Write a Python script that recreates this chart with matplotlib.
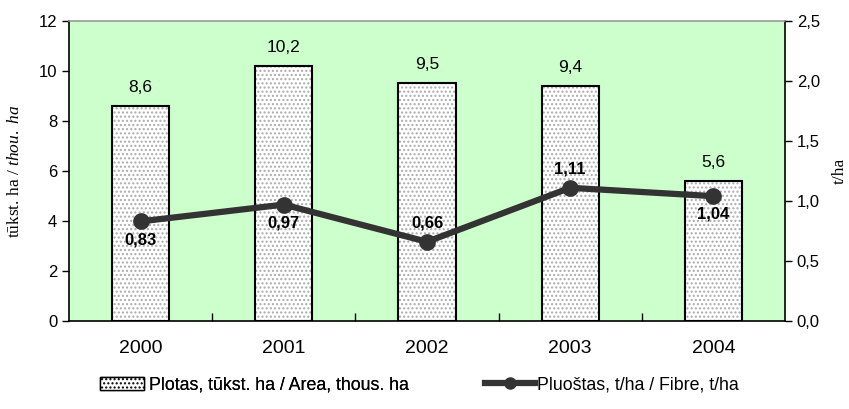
import matplotlib
matplotlib.use("Agg")
import matplotlib.pyplot as plt
import numpy as np
from matplotlib.patches import Patch
from matplotlib.lines import Line2D

plt.rcParams['font.family'] = ['Liberation Sans', 'DejaVu Sans']
plt.rcParams['mathtext.fontset'] = 'custom'
plt.rcParams['mathtext.rm'] = 'Liberation Serif'
plt.rcParams['mathtext.it'] = 'Liberation Serif:italic'

years = ['2000', '2001', '2002', '2003', '2004']
area = [8.6, 10.2, 9.5, 9.4, 5.6]
fibre = [0.83, 0.97, 0.66, 1.11, 1.04]
area_labels = ['8,6', '10,2', '9,5', '9,4', '5,6']
fibre_labels = ['0,83', '0,97', '0,66', '1,11', '1,04']
fibre_above = [False, False, True, True, False]
left_ticks = [0, 2, 4, 6, 8, 10, 12]
right_ticks = [0.0, 0.5, 1.0, 1.5, 2.0, 2.5]
right_tick_labels = ['0,0', '0,5', '1,0', '1,5', '2,0', '2,5']

W, H = 849, 409
fig = plt.figure(figsize=(W / 100, H / 100), dpi=100)
ax = fig.add_axes([0.0813, 0.2152, 0.8433, 0.7335])
ax.set_facecolor('#CCFFCC')
x = np.arange(len(years))
w = 0.4
ax.bar(x, area, width=w, color='white', edgecolor='#AAAAAA', hatch='....', linewidth=0, zorder=2)
ax.bar(x, area, width=w, fill=False, edgecolor='black', linewidth=1.5, zorder=3)
for xi, v, lab in zip(x, area, area_labels):
    ax.text(xi, v + 0.45, lab, ha='center', va='bottom', fontsize=12.5)
ax.set_xlim(-0.5, len(years) - 0.5)
ax.set_ylim(0, 12)
ax.set_yticks(left_ticks)
ax.set_xticks(x)
ax.set_xticklabels(years, fontsize=14)
ax.set_xticks(np.arange(0.5, len(years) - 0.5, 1), minor=True)
ax.tick_params(axis='x', which='major', length=0, pad=14)
ax.tick_params(axis='x', which='minor', length=6, direction='in', width=1)
ax.tick_params(axis='y', labelsize=12, direction='out', length=5, width=1)
for s in ['left', 'bottom', 'right']:
    ax.spines[s].set_color('black')
    ax.spines[s].set_linewidth(1.2)
ax.spines['top'].set_color('#999999')
ax.spines['top'].set_linewidth(1.2)
ax.set_ylabel(r'tūkst. ha / $\it{thou.\ ha}$', fontsize=12.5, family='Liberation Serif')
ax.yaxis.set_label_coords(-0.064, 0.5)

ax2 = ax.twinx()
ax2.set_ylim(0, 2.5)
ax2.set_yticks(right_ticks)
ax2.set_yticklabels(right_tick_labels)
ax2.tick_params(axis='y', labelsize=12, direction='out', length=5, width=1)
ax2.plot(x, fibre, color='#333333', linewidth=4.5, marker='o', markersize=11, zorder=5)
for xi, v, lab, up in zip(x, fibre, fibre_labels, fibre_above):
    if up:
        ax2.text(xi, v + 0.09, lab, ha='center', va='bottom', fontsize=12, fontweight='bold')
    else:
        ax2.text(xi, v - 0.09, lab, ha='center', va='top', fontsize=12, fontweight='bold')
ax2.set_ylabel('t/ha', fontsize=12.5, family='Liberation Serif')
ax2.yaxis.set_label_coords(1.066, 0.5)
for s in ax2.spines.values():
    s.set_visible(False)

fs_leg = 12.8
leg_y = 1 - 385 / H
l1 = fig.legend([Patch(facecolor='white', edgecolor='black', hatch='....', linewidth=1)],
                ['Plotas, tūkst. ha / Area, thous. ha'],
                loc='center left', bbox_to_anchor=(100 / W, leg_y), frameon=False,
                fontsize=fs_leg, handlelength=2.5, handletextpad=0.28,
                borderpad=0, borderaxespad=0)
l2 = fig.legend([Line2D([0], [0], color='#333333', linewidth=4.5, marker='o', markersize=8)],
                ['Pluoštas, t/ha / Fibre, t/ha'],
                loc='center left', bbox_to_anchor=(485 / W, leg_y), frameon=False,
                fontsize=fs_leg, handlelength=2.8, handletextpad=0.1,
                borderpad=0, borderaxespad=0)
fig.add_artist(l1)

fig.savefig('out.png', dpi=100)
